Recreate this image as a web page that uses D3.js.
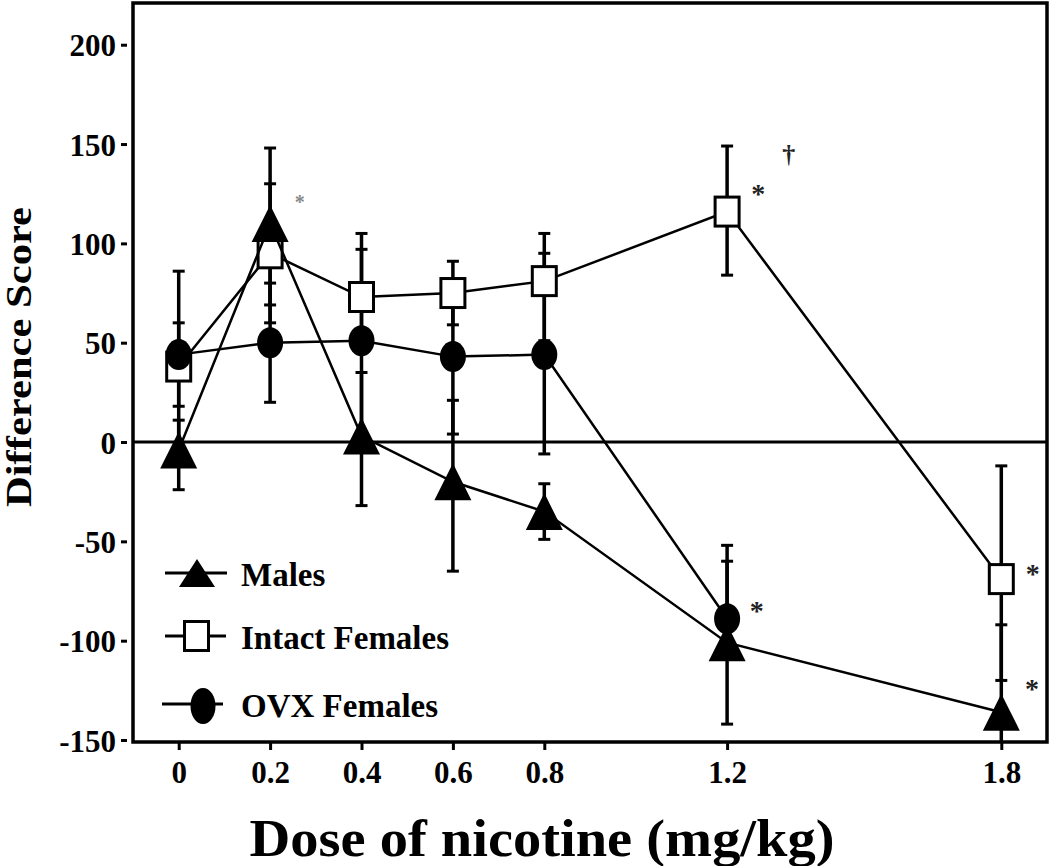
<!DOCTYPE html>
<html>
<head>
<meta charset="utf-8">
<script src="https://cdn.jsdelivr.net/npm/d3@7"></script>
<style>
  html, body { margin: 0; padding: 0; background: #fff; }
  svg { display: block; }
  text { font-family: "Liberation Serif", "Times New Roman", serif; font-weight: bold; fill: #000; }
</style>
</head>
<body>
<svg id="chart" width="1050" height="866"></svg>
<script>
// ---------------- data ----------------
const doses = [0, 0.2, 0.4, 0.6, 0.8, 1.2, 1.8];
const xTicks = [0, 0.2, 0.4, 0.6, 0.8, 1.2, 1.8];
const xTickLabels = ["0", "0.2", "0.4", "0.6", "0.8", "1.2", "1.8"];
const yTicks = [-150, -100, -50, 0, 50, 100, 150, 200];
const yTickLabels = ["-150", "-100", "-50", "0", "50", "100", "150", "200"];

const malesMean = [-4, 110, 3, -20, -35, -101, -136];
const malesLo   = [-24, 69, -32, -65, -49, -142, -180];
const malesHi   = [11, 148, 35, 21, -21, -60, -92];

const intactMean = [38, 95, 73, 75, 81, 116, -69];
const intactLo   = [-10, 60, 49, 59, 51, 84, -120];
const intactHi   = [86, 130, 97, 91, 105, 149, -12];

const ovxDoses = [0, 0.2, 0.4, 0.6, 0.8, 1.2];
const ovxMean = [44, 50, 51, 43, 44, -89];
const ovxLo   = [18, 20, -3, 4, -6, -105];
const ovxHi   = [60, 80, 105, 82, 95, -52];

const seriesNames = ["Males", "Intact Females", "OVX Females"];

// significance marks, in data coordinates (dose, score)
const markDose  = [0.265, 1.268, 1.335, 1.265, 1.869, 1.867];
const markValue = [121.8, 126.8, 144, -83, -64.4, -122.3];
const markText  = ["*", "*", "\u2020", "*", "*", "*"];

const xTitle = "Dose of nicotine (mg/kg)";
const yTitle = "Difference Score";

// ---------------- layout ----------------
const svg = d3.select("#chart");
const L = 133, R = 1047, T = 3, B = 742;
const x = d3.scaleLinear().domain([-0.1, 1.9]).range([L, R]);
const y = d3.scaleLinear().domain([-151, 221]).range([B, T]);

svg.append("defs").append("clipPath").attr("id", "plotclip")
  .append("rect").attr("x", L).attr("y", T).attr("width", R - L).attr("height", B - T);

// zero line
svg.append("line")
  .attr("x1", L).attr("x2", R).attr("y1", y(0)).attr("y2", y(0))
  .attr("stroke", "#000").attr("stroke-width", 3);

// y axis: detached ticks + labels
const yAxis = d3.axisLeft(y).tickValues(yTicks).tickSize(6).tickPadding(9)
  .tickFormat((d, i) => yTickLabels[i]);
const gy = svg.append("g").attr("transform", `translate(${L - 6},0)`).call(yAxis);
gy.select(".domain").remove();
gy.selectAll(".tick line").attr("stroke", "#000").attr("stroke-width", 3);
gy.selectAll(".tick text")
  .attr("font-size", 31).attr("font-family", "Liberation Serif, serif").attr("font-weight", "bold")
  .attr("fill", "#000").attr("dy", "0.36em").attr("x", -11);

// x axis ticks + labels
const xAxis = d3.axisBottom(x).tickValues(xTicks).tickSize(8).tickPadding(10)
  .tickFormat((d, i) => xTickLabels[i]);
const gx = svg.append("g").attr("transform", `translate(0,${B})`).call(xAxis);
gx.select(".domain").remove();
gx.selectAll(".tick line").attr("stroke", "#000").attr("stroke-width", 3);
gx.selectAll(".tick text")
  .attr("font-size", 31).attr("font-family", "Liberation Serif, serif").attr("font-weight", "bold")
  .attr("fill", "#000").attr("dy", null).attr("y", 41);

// frame
svg.append("rect").attr("x", L).attr("y", T).attr("width", R - L).attr("height", B - T)
  .attr("fill", "none").attr("stroke", "#000").attr("stroke-width", 3.5);

// axis titles
svg.append("text").attr("x", 542).attr("y", 856).attr("text-anchor", "middle")
  .attr("font-size", 52).attr("textLength", 585).attr("lengthAdjust", "spacingAndGlyphs")
  .text(xTitle);
svg.append("text").attr("transform", "translate(31,357) rotate(-90)").attr("text-anchor", "middle")
  .attr("font-size", 36).attr("textLength", 300).attr("lengthAdjust", "spacingAndGlyphs")
  .text(yTitle);

// ---------------- series ----------------
const plot = svg.append("g").attr("clip-path", "url(#plotclip)");

function errorBars(g, xs, lo, hi) {
  xs.forEach((d, i) => {
    g.append("line").attr("x1", x(d)).attr("x2", x(d)).attr("y1", y(lo[i])).attr("y2", y(hi[i]))
      .attr("stroke", "#000").attr("stroke-width", 3.5);
    [lo[i], hi[i]].forEach(v => {
      g.append("line").attr("x1", x(d) - 6).attr("x2", x(d) + 6).attr("y1", y(v)).attr("y2", y(v))
        .attr("stroke", "#000").attr("stroke-width", 3);
    });
  });
}
const eg = plot.append("g");
errorBars(eg, doses, intactLo, intactHi);
errorBars(eg, ovxDoses, ovxLo, ovxHi);
errorBars(eg, doses, malesLo, malesHi);

const line = d3.line().x(d => x(d[0])).y(d => y(d[1]));
function drawLine(xs, ys) {
  plot.append("path").datum(xs.map((d, i) => [d, ys[i]])).attr("d", line)
    .attr("fill", "none").attr("stroke", "#000").attr("stroke-width", 2.5);
}

function square(g, cx, cy) {
  g.append("rect").attr("x", cx - 12).attr("y", cy - 14.5).attr("width", 24).attr("height", 29)
    .attr("fill", "#fff").attr("stroke", "#000").attr("stroke-width", 3);
}
function circle(g, cx, cy) {
  g.append("ellipse").attr("cx", cx).attr("cy", cy).attr("rx", 13).attr("ry", 15.5).attr("fill", "#000");
}
function triangle(g, cx, cy, w, h) {
  g.append("path").attr("d", `M${cx},${cy - h / 2}L${cx + w / 2},${cy + h / 2}L${cx - w / 2},${cy + h / 2}Z`)
    .attr("fill", "#000");
}

// Intact
drawLine(doses, intactMean);
doses.forEach((d, i) => square(plot, x(d), y(intactMean[i])));
// OVX
drawLine(ovxDoses, ovxMean);
ovxDoses.forEach((d, i) => circle(plot, x(d), y(ovxMean[i])));
// Males
drawLine(doses, malesMean);
doses.forEach((d, i) => triangle(plot, x(d), y(malesMean[i]), 37, 37));

// significance marks
markDose.forEach((d, i) => {
  const isDagger = markText[i] === "\u2020";
  const small = i === 0;
  const fs = isDagger ? 26 : (small ? 20 : 28);
  const off = isDagger ? fs * 0.26 : fs * 0.47;
  svg.append("text").attr("x", x(d)).attr("y", y(markValue[i]) + off)
    .attr("text-anchor", "middle").attr("font-size", fs)
    .attr("font-weight", isDagger ? "normal" : "bold")
    .style("fill", small ? "#888" : "#222")
    .text(markText[i]);
});

// ---------------- legend ----------------
const lg = svg.append("g");
const legY = [573, 636, 704];
const legLineX = [[165, 227], [165, 226], [162, 223]];
const legSymX = [197, 196.5, 203];
seriesNames.forEach((name, i) => {
  lg.append("line").attr("x1", legLineX[i][0]).attr("x2", legLineX[i][1])
    .attr("y1", legY[i]).attr("y2", legY[i]).attr("stroke", "#000").attr("stroke-width", 3);
  if (i === 0) triangle(lg, legSymX[i], legY[i], 36, 28);
  if (i === 1) square(lg, legSymX[i], legY[i]);
  if (i === 2) lg.append("ellipse").attr("cx", legSymX[i]).attr("cy", legY[i] + 2).attr("rx", 12.5).attr("ry", 18).attr("fill", "#000");
  lg.append("text").attr("x", 241).attr("y", legY[i] + 13).attr("font-size", 33).text(name);
});
</script>
</body>
</html>
